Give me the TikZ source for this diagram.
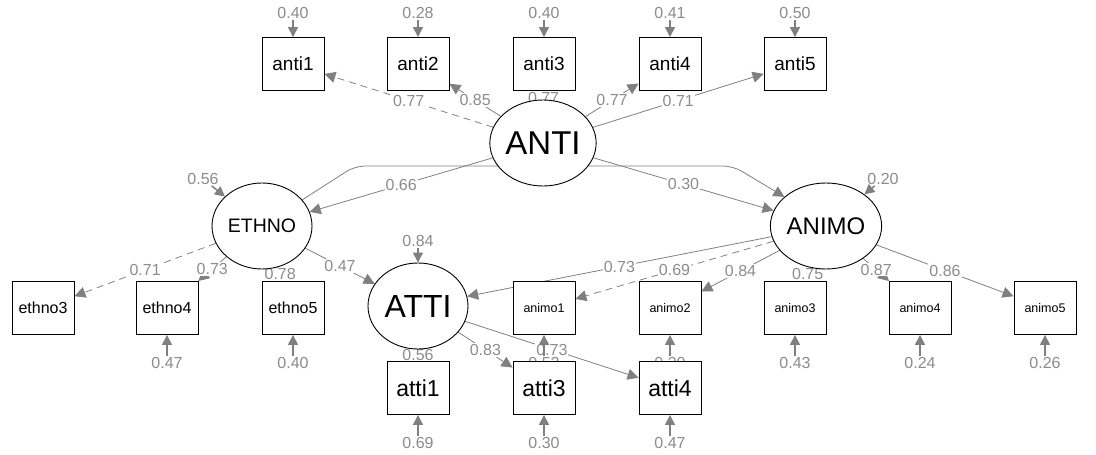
\documentclass[tikz,border=0pt]{standalone}
\usepackage{fontspec}
\setmainfont{Liberation Sans}
\usetikzlibrary{arrows.meta,positioning,shapes.geometric}
\definecolor{pathgray}{RGB}{128,128,128}
\definecolor{valgray}{RGB}{140,140,140}
\pgfdeclarelayer{edges}
\pgfsetlayers{edges,main}
\newcommand{\fsz}[1]{\fontsize{#1}{#1}\selectfont}
\tikzstyle{manifest} = [draw,fill=white,line width=0.9pt,minimum width=62pt,minimum height=53pt,inner sep=0pt]
\tikzstyle{latent} = [draw,ellipse,fill=white,line width=0.9pt,minimum width=100pt,minimum height=86pt,inner sep=0pt]
\tikzstyle{loading} = [pathgray,line width=0.8pt,->,>={Triangle[length=11pt,width=11pt]}]
\tikzstyle{fixed} = [loading,dash pattern=on 7pt off 5pt]
\tikzstyle{resid} = [pathgray,line width=1.5pt,->,>={Triangle[length=10pt,width=10pt]}]
\tikzstyle{coef} = [valgray,fill=white,inner sep=1pt,font=\fsz{16}]
% residual variance above / below a node
\newcommand{\resabove}[3][17pt]{
 \node[coef,above=#1 of #2] (#2r) {#3};
 \draw[resid] (#2r) -- (#2);
}
\newcommand{\resbelow}[3][21pt]{
 \node[coef,below=#1 of #2] (#2r) {#3};
 \draw[resid] (#2r) -- (#2);
}

\begin{document}
\begin{tikzpicture}[x=1pt,y=-1pt]
 \useasboundingbox (0,0) rectangle (1096,455);

 % latent variables
 \node[latent,font=\fsz{33}] (ANTI) at (543,143) {ANTI};
 \node[latent,font=\fsz{19.5}] (ETHNO) at (262,226) {ETHNO};
 \node[latent,font=\fsz{24}] (ANIMO) at (826,226) {ANIMO};
 \node[latent,font=\fsz{32}] (ATTI) at (418,306) {ATTI};

 % indicators
 \node[manifest,font=\fsz{19}] (anti1) at (293,64) {anti1};
 \node[manifest,font=\fsz{19}] (anti2) at (418,64) {anti2};
 \node[manifest,font=\fsz{19}] (anti3) at (544,64) {anti3};
 \node[manifest,font=\fsz{19}] (anti4) at (670,64) {anti4};
 \node[manifest,font=\fsz{19}] (anti5) at (795,64) {anti5};

 \node[manifest,font=\fsz{16}] (ethno3) at (43,308) {ethno3};
 \node[manifest,font=\fsz{16}] (ethno4) at (167,308) {ethno4};
 \node[manifest,font=\fsz{16}] (ethno5) at (293,308) {ethno5};

 \node[manifest,font=\fsz{12.5}] (animo1) at (544,308) {animo1};
 \node[manifest,font=\fsz{12.5}] (animo2) at (670,308) {animo2};
 \node[manifest,font=\fsz{12.5}] (animo3) at (795,308) {animo3};
 \node[manifest,font=\fsz{12.5}] (animo4) at (920,308) {animo4};
 \node[manifest,font=\fsz{12.5}] (animo5) at (1045,308) {animo5};

 \node[manifest,font=\fsz{23}] (atti1) at (418,388) {atti1};
 \node[manifest,font=\fsz{23}] (atti3) at (544,388) {atti3};
 \node[manifest,font=\fsz{23}] (atti4) at (670,388) {atti4};

 \begin{pgfonlayer}{edges}
  % ETHNO to ANIMO, bent behind ANTI
  \draw[loading,rounded corners=10pt] (ETHNO.33) -- (355,166) -- (733,166) -- (ANIMO.145);

  % structural paths
  \draw[loading] (ANTI) -- node[coef] {0.66} (ETHNO);
  \draw[loading] (ANTI) -- node[coef] {0.30} (ANIMO);
  \draw[loading] (ETHNO) -- node[coef] {0.47} (ATTI);
  \draw[loading] (ANIMO) -- node[coef] {0.73} (ATTI);

  % loadings
  \draw[fixed]   (ANTI) -- node[coef] {0.77} (anti1);
  \draw[loading] (ANTI) -- node[coef] {0.85} (anti2);
  \draw[loading] (ANTI) -- node[coef,pos=.2] {0.77} (anti3);
  \draw[loading] (ANTI) -- node[coef] {0.77} (anti4);
  \draw[loading] (ANTI) -- node[coef] {0.71} (anti5);

  \draw[fixed]   (ETHNO) -- node[coef] {0.71} (ethno3);
  \draw[loading] (ETHNO) -- node[coef] {0.73} (ethno4);
  \draw[loading] (ETHNO) -- node[coef] {0.78} (ethno5);

  \draw[fixed]   (ANIMO) -- node[coef] {0.69} (animo1);
  \draw[loading] (ANIMO) -- node[coef] {0.84} (animo2);
  \draw[loading] (ANIMO) -- node[coef] {0.75} (animo3);
  \draw[loading] (ANIMO) -- node[coef] {0.87} (animo4);
  \draw[loading] (ANIMO) -- node[coef] {0.86} (animo5);

  \draw[fixed]   (ATTI) -- node[coef] {0.56} (atti1);
  \draw[loading] (ATTI) -- node[coef] {0.83} (atti3);
  \draw[loading] (ATTI) -- node[coef] {0.73} (atti4);

  % residual variances
  \resabove{anti1}{0.40}
  \resabove{anti2}{0.28}
  \resabove{anti3}{0.40}
  \resabove{anti4}{0.41}
  \resabove{anti5}{0.50}
  \resabove[15pt]{ATTI}{0.84}
  \node[coef] (ETHNOr) at (203,179) {0.56};
  \draw[resid] (ETHNOr) -- (ETHNO);
  \node[coef] (ANIMOr) at (883,179) {0.20};
  \draw[resid] (ANIMOr) -- (ANIMO);
  \resbelow{ethno4}{0.47}
  \resbelow{ethno5}{0.40}
  \resbelow{animo1}{0.52}
  \resbelow{animo2}{0.30}
  \resbelow{animo3}{0.43}
  \resbelow{animo4}{0.24}
  \resbelow{animo5}{0.26}
  \resbelow{atti1}{0.69}
  \resbelow{atti3}{0.30}
  \resbelow{atti4}{0.47}
 \end{pgfonlayer}
\end{tikzpicture}
\end{document}
